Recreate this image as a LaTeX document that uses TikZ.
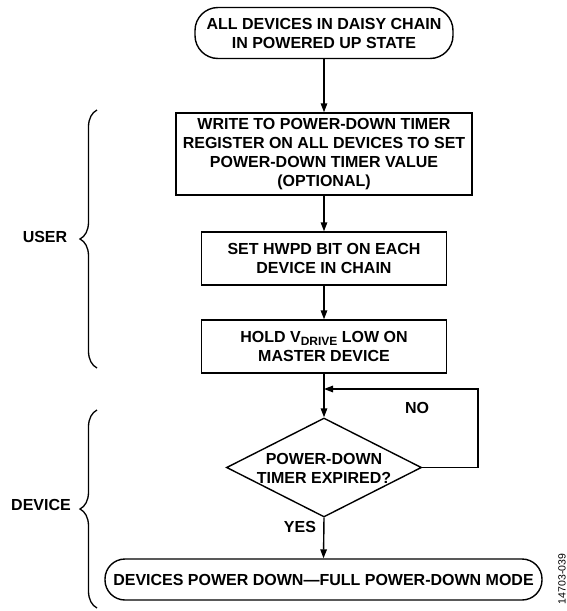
\documentclass[tikz,border=0pt]{standalone}
\usepackage{fontspec}
\setmainfont{Liberation Sans}
\usetikzlibrary{arrows.meta,shapes.geometric,decorations.pathreplacing}
\begin{document}
\begin{tikzpicture}[x=1pt,y=-1pt,
  every node/.style={font=\fontsize{16}{19}\selectfont\bfseries, align=center},
  proc/.style={draw, line width=1.4pt, inner sep=0pt},
  term/.style={draw, line width=1.4pt, inner sep=0pt},
  flow/.style={line width=1.4pt, -{Triangle[length=9pt,width=6.5pt]}},
  bracestyle/.style={line width=1.3pt, decorate, decoration={brace, amplitude=17pt}},
  sidelabel/.style={font=\fontsize{16}{19}\selectfont\bfseries}
]
\useasboundingbox (0,0) rectangle (567,611);

\node[term, rounded corners=23pt, minimum width=258pt, minimum height=51pt] (start) at (324,33)
  {ALL DEVICES IN DAISY CHAIN\\IN POWERED UP STATE};
\node[proc, minimum width=296pt, minimum height=82pt] (write) at (324,154)
  {WRITE TO POWER-DOWN TIMER\\REGISTER ON ALL DEVICES TO SET\\POWER-DOWN TIMER VALUE\\(OPTIONAL)};
\node[proc, minimum width=245pt, minimum height=53pt] (hwpd) at (324,258.5)
  {SET HWPD BIT ON EACH\\DEVICE IN CHAIN};
\node[proc, minimum width=245pt, minimum height=53pt] (hold) at (324,346.5)
  {HOLD V\raisebox{-0.35ex}{\fontsize{12}{12}\selectfont DRIVE} LOW ON\\MASTER DEVICE};
\node[diamond, draw, line width=1.4pt, minimum width=195pt, minimum height=99pt, inner sep=0pt,
  label={[align=center, yshift=-1pt]center:POWER-DOWN\\TIMER EXPIRED?}] (dec) at (324,467.5) {};
\node[term, rounded corners=20pt, minimum width=437pt, minimum height=41pt] (end) at (323.5,579.5)
  {DEVICES POWER DOWN\textemdash FULL POWER-DOWN MODE};

\coordinate (join) at (324,389);
\coordinate (loopR) at (478,389);
\coordinate (loopB) at (478,467.5);

\draw[flow] (start) -- (write);
\draw[flow] (write) -- (hwpd);
\draw[flow] (hwpd) -- (hold);
\draw[flow] (hold) -- (dec.north);
\draw[flow] (dec.east) -- (loopB) -- (loopR) -- (join);
\draw[flow] (dec.south) -- (end.north);

\node (no) at (417,408) {NO};
\node (yes) at (300,527) {YES};

\draw[bracestyle] (97,368) -- (97,110);
\draw[bracestyle] (97,608) -- (97,410);
\node[sidelabel] (user) at (45,237) {USER};
\node[sidelabel] (device) at (41,505) {DEVICE};

\node[font=\fontsize{10.5}{11}\selectfont, rotate=90] (code) at (562,579) {14703-039};
\end{tikzpicture}
\end{document}
